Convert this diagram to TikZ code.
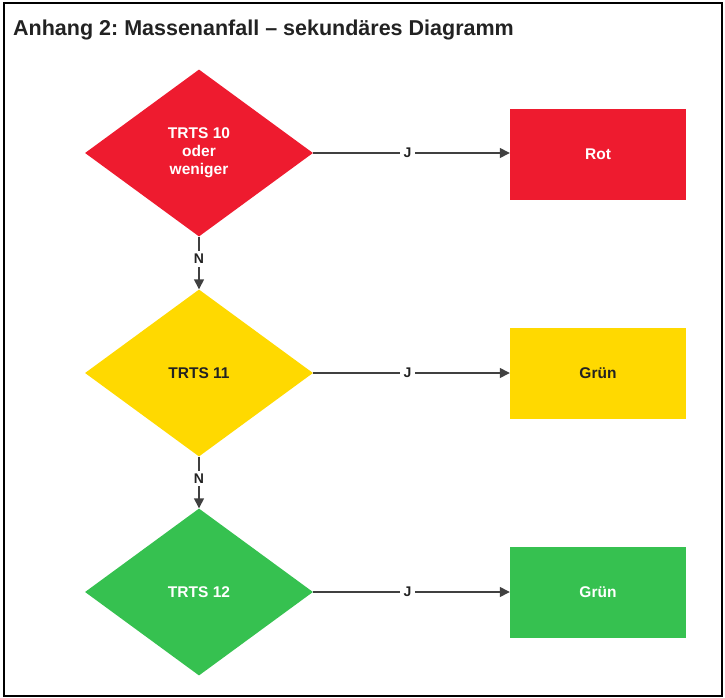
\documentclass[tikz,border=0pt]{standalone}
\usepackage{fontspec}
\setmainfont{Liberation Sans}
\usetikzlibrary{shapes.geometric,arrows.meta}
\definecolor{tred}{HTML}{EE1B2F}
\definecolor{tyellow}{HTML}{FFD900}
\definecolor{tgreen}{HTML}{36C150}
\definecolor{tline}{HTML}{404040}
\definecolor{ttext}{HTML}{222222}
\frenchspacing
\tikzset{
  decision/.style={diamond, draw=none, inner sep=0pt, minimum width=228pt,
    minimum height=167pt, align=center, font=\bfseries\fontsize{15.5}{18}\selectfont},
  outcome/.style={rectangle, draw=none, inner sep=0pt, minimum width=176pt,
    minimum height=91pt, font=\bfseries\fontsize{15.5}{18}\selectfont},
  flow/.style={draw=tline, line width=1.4pt,
    -{Triangle[length=10pt,width=10pt]}},
  answer/.style={fill=white, inner xsep=4pt, inner ysep=3pt, text=ttext,
    font=\bfseries\fontsize{14}{16}\selectfont}
}
\begin{document}
\begin{tikzpicture}[x=1pt,y=-1pt]
  \useasboundingbox (0,0) rectangle (725,698);
  % outer frame
  \draw[line width=2pt, black] (4,3) rectangle (722,696);
  % heading
  \node[anchor=base west, inner sep=0pt, text=ttext,
    font=\bfseries\fontsize{21.5}{24}\selectfont] (title) at (13,36)
    {Anhang 2: Massenanfall -- sekundäres Diagramm};

  % decisions
  \node[decision, fill=tred, text=white] (d1) at (199,153) {TRTS 10\\oder\\weniger};
  \node[decision, fill=tyellow, text=ttext] (d2) at (199,373) {TRTS 11};
  \node[decision, fill=tgreen, text=white] (d3) at (199,592) {TRTS 12};

  % outcomes
  \node[outcome, fill=tred, text=white] (r1) at (598,154.5) {Rot};
  \node[outcome, fill=tyellow, text=ttext] (r2) at (598,373) {Grün};
  \node[outcome, fill=tgreen, text=white] (r3) at (598,592) {Grün};

  % yes branches
  \draw[flow] (d1.east) -- node[answer, pos=0.48] (j1) {J} (r1.west |- d1.east);
  \draw[flow] (d2.east) -- node[answer, pos=0.48] (j2) {J} (r2.west |- d2.east);
  \draw[flow] (d3.east) -- node[answer, pos=0.48] (j3) {J} (r3.west |- d3.east);

  % no branches
  \draw[flow] (d1.south) -- node[answer, pos=0.42] (n1) {N} (d2.north);
  \draw[flow] (d2.south) -- node[answer, pos=0.42] (n2) {N} (d3.north);
\end{tikzpicture}
\end{document}
